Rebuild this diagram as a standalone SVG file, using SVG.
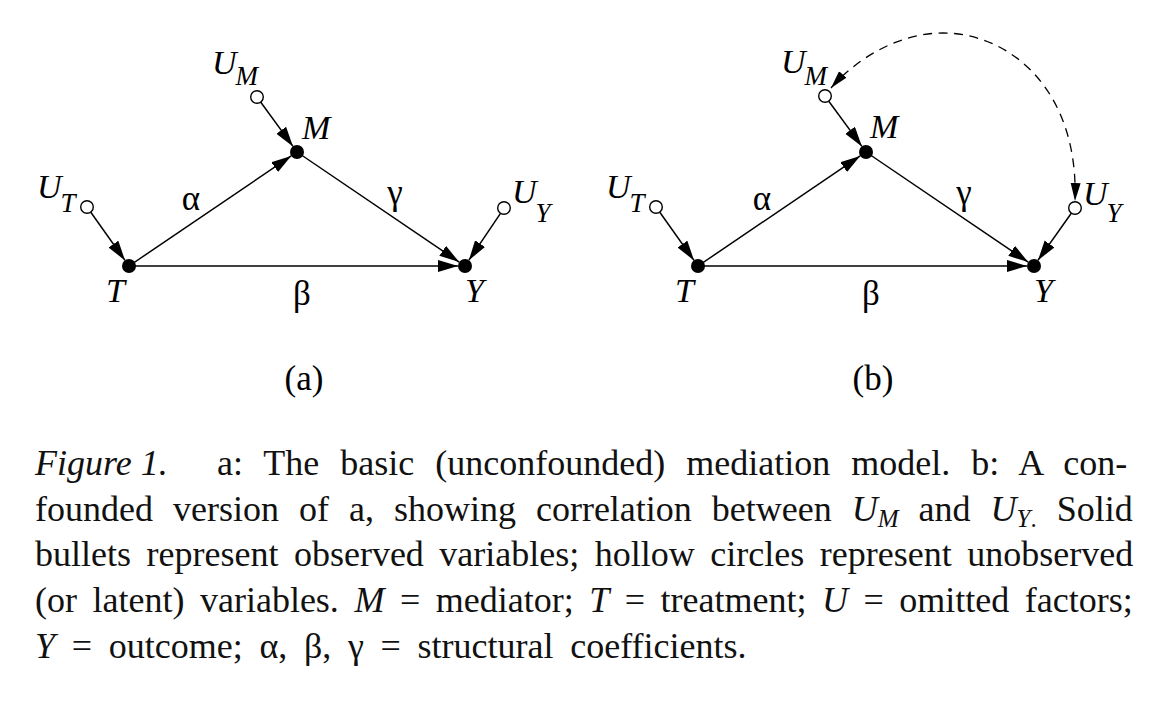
<svg xmlns="http://www.w3.org/2000/svg" width="1167" height="718" viewBox="0 0 1167 718">
<style>
  text { font-family:'Liberation Serif','Times New Roman',Times,serif; fill:#000; }
  .edge { stroke:#000; stroke-width:1.5; fill:none; marker-end:url(#arr); }
  .dash { stroke:#000; stroke-width:1.3; fill:none; stroke-dasharray:9 6.5; marker-start:url(#arr2); marker-end:url(#arr2); }
  .obs { fill:#000; }
  .lat { fill:#fff; stroke:#000; stroke-width:1.4; }
  .lbl { font-style:italic; font-size:34px; }
  .sub { font-size:27px; }
  .greek { font-size:35px; text-anchor:middle; }
  .cap { font-size:36px; fill:#111; }
  .it { font-style:italic; }
</style>
<defs>
  <marker id="arr" markerUnits="userSpaceOnUse" markerWidth="22" markerHeight="14" refX="20" refY="6" orient="auto">
    <path d="M0,0 L20,6 L0,12 z" fill="#000"/>
  </marker>
  <marker id="arr2" markerUnits="userSpaceOnUse" markerWidth="20" markerHeight="12" refX="18" refY="5" orient="auto-start-reverse">
    <path d="M0,0 L18,5 L0,10 z" fill="#000"/>
  </marker>
</defs>
<rect width="1167" height="718" fill="#fff"/>

<g id="connectors">
  <line class="edge" x1="90.8" y1="212.3" x2="125" y2="260.4"/>
  <line class="edge" x1="260.8" y1="102.3" x2="293" y2="146.4"/>
  <line class="edge" x1="129" y1="266" x2="291.2" y2="155.9"/>
  <line class="edge" x1="297" y1="152" x2="459.2" y2="262.1"/>
  <line class="edge" x1="129" y1="266" x2="458" y2="266"/>
  <line class="edge" x1="500.5" y1="213.3" x2="468.9" y2="260.2"/>
  <line class="edge" x1="659.8" y1="212.3" x2="694" y2="260.4"/>
  <line class="edge" x1="828.8" y1="101.2" x2="861.9" y2="146.4"/>
  <line class="edge" x1="698" y1="266" x2="860.2" y2="155.9"/>
  <line class="edge" x1="866" y1="152" x2="1028.2" y2="262.1"/>
  <line class="edge" x1="698" y1="266" x2="1027" y2="266"/>
  <line class="edge" x1="1071.3" y1="213.2" x2="1038" y2="260.3"/>
  <path class="dash" d="M831,88 C858,57 900,33 943,33 C1010,33 1079,90 1075,201"/>
</g>

<g id="a-UM"><circle class="lat" cx="257" cy="97" r="6.3"/><text class="lbl" x="212" y="74">U<tspan class="sub" dx="-1" dy="11">M</tspan></text></g>
<g id="a-M"><circle class="obs" cx="297" cy="152" r="7"/><text class="lbl" x="302" y="139">M</text></g>
<g id="a-UT"><circle class="lat" cx="87" cy="207" r="6.3"/><text class="lbl" x="37" y="198">U<tspan class="sub" dx="-1" dy="14">T</tspan></text></g>
<g id="a-T"><circle class="obs" cx="129" cy="266" r="7"/><text class="lbl" x="106" y="302">T</text></g>
<g id="a-UY"><circle class="lat" cx="504" cy="208" r="6.3"/><text class="lbl" x="512" y="203">U<tspan class="sub" dx="-1" dy="19">Y</tspan></text></g>
<g id="a-Y"><circle class="obs" cx="465" cy="266" r="7"/><text class="lbl" x="465" y="302">Y</text></g>
<g id="a-labels">
  <text class="greek" x="191" y="210">α</text>
  <text class="greek" x="395" y="204">γ</text>
  <text class="greek" x="302" y="305">β</text>
  <text class="greek" x="304" y="390">(a)</text>
</g>

<g id="b-UM"><circle class="lat" cx="825" cy="96" r="6.3"/><text class="lbl" x="781" y="73">U<tspan class="sub" dx="-1" dy="12">M</tspan></text></g>
<g id="b-M"><circle class="obs" cx="866" cy="152" r="7"/><text class="lbl" x="870" y="138">M</text></g>
<g id="b-UT"><circle class="lat" cx="656" cy="207" r="6.3"/><text class="lbl" x="606" y="198">U<tspan class="sub" dx="-1" dy="14">T</tspan></text></g>
<g id="b-T"><circle class="obs" cx="698" cy="266" r="7"/><text class="lbl" x="675" y="302">T</text></g>
<g id="b-UY"><circle class="lat" cx="1075" cy="208" r="6.3"/><text class="lbl" x="1083" y="205">U<tspan class="sub" dx="-1" dy="17">Y</tspan></text></g>
<g id="b-Y"><circle class="obs" cx="1034" cy="266" r="7"/><text class="lbl" x="1034" y="302">Y</text></g>
<g id="b-labels">
  <text class="greek" x="762" y="210">α</text>
  <text class="greek" x="964" y="204">γ</text>
  <text class="greek" x="871" y="305">β</text>
  <text class="greek" x="873" y="390">(b)</text>
</g>

<g id="caption">
  <text class="cap" x="35" y="475"><tspan class="it">Figure 1.</tspan><tspan x="217" word-spacing="12px">a: The basic (unconfounded) mediation model. b: A con-</tspan></text>
  <text class="cap" x="35" y="521" word-spacing="11px">founded version of a, showing correlation between <tspan class="it">U</tspan><tspan class="it" font-size="25" dy="6">M</tspan><tspan dy="-6"> and </tspan><tspan class="it">U</tspan><tspan font-size="25" dy="6"><tspan class="it">Y</tspan>.</tspan><tspan dy="-6"> Solid</tspan></text>
  <text class="cap" x="35" y="566" word-spacing="6.5px">bullets represent observed variables; hollow circles represent unobserved</text>
  <text class="cap" x="35" y="612" word-spacing="6.5px">(or latent) variables. <tspan class="it">M</tspan> = mediator; <tspan class="it">T</tspan> = treatment; <tspan class="it">U</tspan> = omitted factors;</text>
  <text class="cap" x="35" y="658" word-spacing="7.7px"><tspan class="it">Y</tspan> = outcome; α, β, γ = structural coefficients.</text>
</g>
</svg>
